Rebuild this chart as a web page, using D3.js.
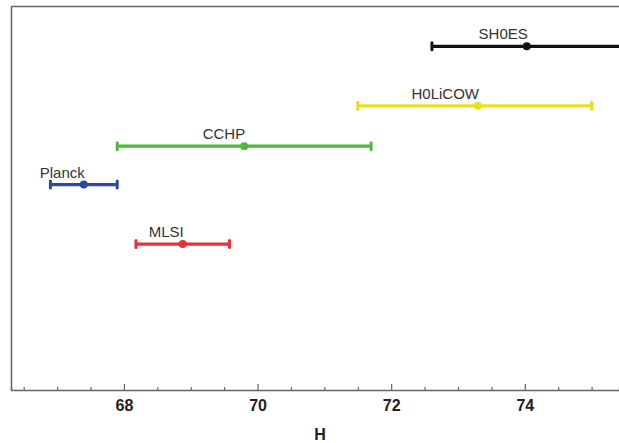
<!DOCTYPE html>
<html>
<head>
<meta charset="utf-8">
<script src="https://cdn.jsdelivr.net/npm/d3@7"></script>
<style>
  body { margin: 0; background: #fff; }
  svg { display: block; font-family: "Liberation Sans", Arial, sans-serif; }
</style>
</head>
<body>
<div class="render"></div>
<script>
// measurements of H (central value, lower and upper end of the bar)
var names   = ['SH0ES', 'H0LiCOW', 'CCHP', 'Planck', 'MLSI'];
var centers = [74.03, 73.3, 69.8, 67.4, 68.88];
var lows    = [72.61, 71.5, 67.9, 66.9, 68.18];
var highs   = [75.45, 75.0, 71.7, 67.9, 69.58];
var rows    = [8.95, 7.4, 6.35, 5.35, 3.8];   // vertical slot of each bar
var colors  = ['#111111', '#e6e01e', '#4cba3a', '#2b4aa3', '#e8303a'];

var majorTicks = [68, 70, 72, 74];
var minorTicks = [66.5, 67, 67.5, 68.5, 69, 69.5, 70.5, 71, 71.5, 72.5, 73, 73.5, 74.5, 75];

var w = 619, h = 443;
var padLeft = 11, padRight = 619, padTop = 6, axisY = 390;

var svg = d3.select('.render').append('svg').attr('width', w).attr('height', h);

var xScale = d3.scaleLinear().domain([66.31, 75.41]).range([padLeft, padRight]);
var yScale = d3.scaleLinear().domain([0, 10]).range([axisY, padTop]);

// frame: left and top lines
svg.append('line').attr('x1', padLeft + 0.5).attr('x2', padLeft + 0.5).attr('y1', padTop).attr('y2', axisY)
   .attr('stroke', '#666').attr('stroke-width', 1.5);
svg.append('line').attr('x1', padLeft).attr('x2', padRight).attr('y1', padTop + 0.5).attr('y2', padTop + 0.5)
   .attr('stroke', '#666').attr('stroke-width', 1.5);

// minor ticks
var minorAxis = d3.axisBottom(xScale).tickValues(minorTicks).tickSize(-3).tickFormat('');
var gMinor = svg.append('g').attr('transform', 'translate(0,' + axisY + ')').call(minorAxis);
gMinor.select('.domain').attr('stroke', '#666').attr('stroke-width', 1.5);
gMinor.selectAll('.tick line').attr('stroke', '#666').attr('stroke-width', 1.2);

// major ticks + labels
var xAxis = d3.axisBottom(xScale).tickValues(majorTicks).tickSize(-6).tickPadding(10).tickFormat(d3.format('d'));
var gAxis = svg.append('g').attr('transform', 'translate(0,' + axisY + ')').call(xAxis);
gAxis.select('.domain').remove();
gAxis.selectAll('.tick line').attr('stroke', '#666').attr('stroke-width', 1.2);
gAxis.selectAll('.tick text').attr('fill', '#222').style('font-size', '16px').style('font-weight', 'bold')
   .style('font-family', '"Liberation Sans", Arial, sans-serif');

svg.append('text').text('H').attr('x', 320).attr('y', 440).attr('text-anchor', 'middle')
   .attr('fill', '#222').style('font-size', '16px').style('font-weight', 'bold');

// error bars
var idx = d3.range(names.length);
var bars = svg.selectAll('g.bar').data(idx).enter().append('g').attr('class', 'bar');

bars.append('line')
   .attr('x1', function (i) { return xScale(lows[i]); })
   .attr('x2', function (i) { return xScale(highs[i]); })
   .attr('y1', function (i) { return yScale(rows[i]); })
   .attr('y2', function (i) { return yScale(rows[i]); })
   .attr('stroke', function (i) { return colors[i]; })
   .attr('stroke-width', 3.2);

['low', 'high'].forEach(function (end) {
   bars.append('line')
      .attr('x1', function (i) { return xScale(end === 'low' ? lows[i] : highs[i]); })
      .attr('x2', function (i) { return xScale(end === 'low' ? lows[i] : highs[i]); })
      .attr('y1', function (i) { return yScale(rows[i]) - 3.5; })
      .attr('y2', function (i) { return yScale(rows[i]) + 3.5; })
      .attr('stroke', function (i) { return colors[i]; })
      .attr('stroke-width', 3)
      .attr('stroke-linecap', 'round');
});

bars.append('circle')
   .attr('cx', function (i) { return xScale(centers[i]); })
   .attr('cy', function (i) { return yScale(rows[i]); })
   .attr('r', 4)
   .attr('fill', function (i) { return colors[i]; });

bars.append('text')
   .text(function (i) { return names[i]; })
   .attr('x', function (i) { return xScale(centers[i]) + 1; })
   .attr('y', function (i) { return yScale(rows[i]) - 7; })
   .attr('text-anchor', 'end')
   .attr('fill', '#333')
   .style('font-size', '15px');
</script>
</body>
</html>
